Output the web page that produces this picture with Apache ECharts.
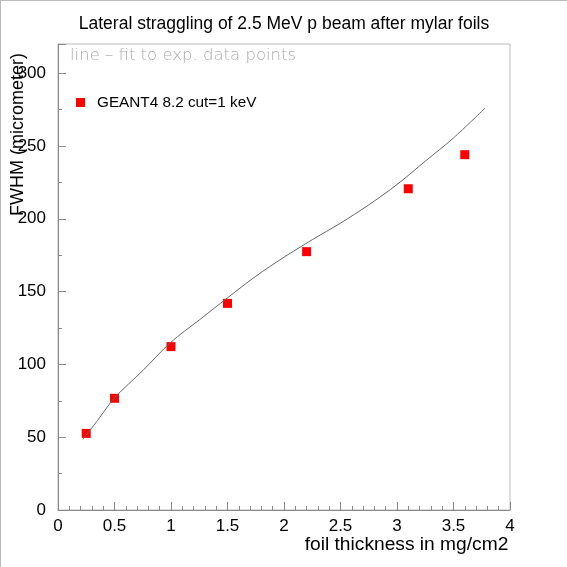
<!DOCTYPE html>
<html>
<head>
<meta charset="utf-8">
<script src="https://cdn.jsdelivr.net/npm/echarts@6/dist/echarts.min.js"></script>
<style>
html,body{margin:0;padding:0;background:#fff;}
#c{width:567px;height:567px;box-sizing:border-box;border-top:1px solid #bbb;border-left:1px solid #bbb;}
</style>
</head>
<body>
<div id="c"></div>
<script>
// Data
const pointX = [0.25, 0.5, 1.0, 1.5, 2.2, 3.1, 3.6];
const pointY = [52.6, 76.7, 112.2, 141.9, 177.4, 220.6, 244.0];
const fitX = [0.22, 0.35, 0.5, 0.75, 1.0, 1.25, 1.5, 1.75, 2.0, 2.25, 2.5, 2.75, 3.0, 3.25, 3.5, 3.78];
const fitY = [48.5, 61.5, 77.0, 95.7, 115.3, 130.5, 145.7, 160.5, 173.6, 185.6, 197.0, 209.5, 223.5, 239.5, 255.5, 276.0];
const titleText = 'Lateral straggling of 2.5 MeV p beam after mylar foils';
const noteText = 'line \u2013 fit to exp. data points';
const seriesName = 'GEANT4 8.2 cut=1 keV';
const xName = 'foil thickness in mg/cm2';
const yName = 'FWHM (micrometer)';

const font = 'Liberation Sans';
const chart = echarts.init(document.getElementById('c'));
chart.setOption({
  animation: false,
  title: [
    { text: titleText, left: 'center', top: 9,
      textStyle: { fontFamily: font, fontSize: 17.5, fontWeight: 'normal', color: '#000' } },
    { text: noteText, left: 64, top: 41,
      textStyle: { fontFamily: 'DejaVu Sans', fontSize: 16.5, fontWeight: 'lighter', color: '#aaa' } }
  ],
  legend: {
    data: [seriesName], left: 75, top: 94, padding: 0, icon: 'rect', itemWidth: 9, itemHeight: 9, itemGap: 8,
    textStyle: { fontFamily: font, fontSize: 15.3, color: '#000', padding: [0, 0, 0, 7] }
  },
  grid: { left: 57, right: 57, top: 43, bottom: 57, show: true, borderColor: '#bbb', borderWidth: 1,
    containLabel: false, outerBoundsMode: 'none' },
  xAxis: {
    type: 'value', min: 0, max: 4, interval: 0.5,
    name: xName, nameLocation: 'middle', nameGap: 25, nameMoveOverlap: false,
    nameTextStyle: { fontFamily: font, fontSize: 19.2, color: '#000', padding: [0, 0, 0, 245] },
    axisLine: { show: true, lineStyle: { color: '#888', width: 1 } },
    axisTick: { show: true, inside: true, length: 8, lineStyle: { color: '#888' } },
    minorTick: { show: true, splitNumber: 5, length: 4, lineStyle: { color: '#888' } },
    splitLine: { show: false },
    axisLabel: { fontFamily: font, fontSize: 17, color: '#000', margin: 8 }
  },
  yAxis: {
    type: 'value', min: 0, max: 320, interval: 50,
    name: yName, nameLocation: 'middle', nameGap: 31, nameMoveOverlap: false,
    nameTextStyle: { fontFamily: font, fontSize: 18, color: '#000', padding: [0, 0, 0, 285] },
    axisLine: { show: true, lineStyle: { color: '#888', width: 1 } },
    axisTick: { show: true, inside: true, length: 8, lineStyle: { color: '#888' } },
    minorTick: { show: true, splitNumber: 2, length: 4, lineStyle: { color: '#888' } },
    splitLine: { show: false },
    axisLabel: { fontFamily: font, fontSize: 17, color: '#000', margin: 12, showMaxLabel: false }
  },
  series: [
    { name: 'fit', type: 'line', smooth: 0.3, symbol: 'none',
      lineStyle: { color: '#666', width: 1 },
      data: fitX.map((x, i) => [x, fitY[i]]) },
    { name: seriesName, type: 'scatter', symbol: 'rect', symbolSize: 9,
      itemStyle: { color: '#ff0000', opacity: 1 },
      data: pointX.map((x, i) => [x, pointY[i]]) }
  ]
});
</script>
</body>
</html>
